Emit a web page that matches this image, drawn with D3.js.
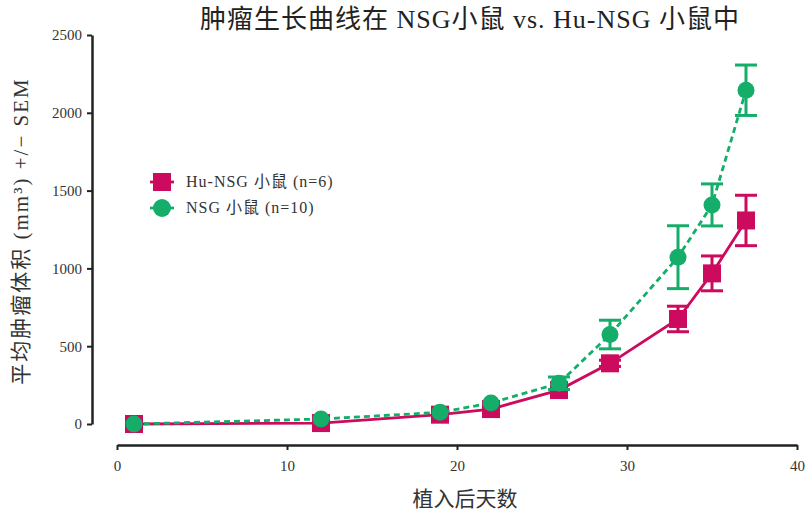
<!DOCTYPE html>
<html>
<head>
<meta charset="utf-8">
<script src="https://cdn.jsdelivr.net/npm/d3@7"></script>
<style>
  body { margin: 0; background: #fff; }
  svg { display: block; }
  text { font-family: "Liberation Serif", "Noto Serif", "Noto Sans CJK SC", serif; fill: #333; }
</style>
</head>
<body>
<svg id="chart" width="809" height="518"></svg>
<script>
// Days after implantation
const days = [1, 12, 19, 22, 26, 29, 33, 35, 37];
// Mean tumour volume (mm³) and SEM per group
const huNsgMean = [0, 6, 60, 96, 218, 390, 675, 968, 1308];
const huNsgSem  = [0, 0, 0, 0, 0, 20, 82, 112, 162];
const nsgMean   = [0, 32, 75, 135, 262, 575, 1072, 1408, 2145];
const nsgSem    = [0, 0, 0, 0, 40, 92, 202, 135, 162];
const yTicks = [0, 500, 1000, 1500, 2000, 2500];
const xTicks = [0, 10, 20, 30, 40];

const svg = d3.select("#chart");
const x = d3.scaleLinear().domain([0, 40]).range([117, 797]);
const y = d3.scaleLinear().domain([0, 2500]).range([424, 35]);

const magenta = "#CC0A5E";
const green = "#14AD69";

// Title
svg.append("text").attr("x", 470).attr("y", 28).attr("text-anchor", "middle")
  .style("font-size", "26px").style("letter-spacing", "1px").style("fill", "#222")
  .text("肿瘤生长曲线在 NSG小鼠 vs. Hu-NSG 小鼠中");

// Y axis
const yAxis = svg.append("g").attr("transform", "translate(92,0)")
  .call(d3.axisLeft(y).tickValues(yTicks).tickFormat(d3.format("d"))
    .tickSize(5).tickSizeOuter(0).tickPadding(5));
yAxis.select(".domain").attr("stroke", "#222").attr("stroke-width", 2.5);
yAxis.selectAll(".tick line").attr("stroke", "#222").attr("stroke-width", 2);
yAxis.selectAll(".tick text").style("font-size", "15px").style("font-family", "Liberation Serif, serif").attr("fill", "#333");

// X axis
const xAxis = svg.append("g").attr("transform", "translate(0,445)")
  .call(d3.axisBottom(x).tickValues(xTicks).tickFormat(d3.format("d"))
    .tickSize(5).tickSizeOuter(0).tickPadding(10));
xAxis.select(".domain").attr("stroke", "#222").attr("stroke-width", 2.5);
xAxis.selectAll(".tick line").attr("stroke", "#222").attr("stroke-width", 2);
xAxis.selectAll(".tick text").style("font-size", "15px").style("font-family", "Liberation Serif, serif").attr("fill", "#333");

// Axis titles
svg.append("text").attr("x", 465).attr("y", 506).attr("text-anchor", "middle")
  .style("font-size", "21px").text("植入后天数");
svg.append("text").attr("transform", "translate(28,231) rotate(-90)").attr("text-anchor", "middle")
  .style("font-size", "21px").style("letter-spacing", "2px").text("平均肿瘤体积 (mm³) +/− SEM");

const line = d3.line().x(d => x(d.day)).y(d => y(d.v));

function series(mean, sem, color, dashed, shape) {
  const pts = days.map((d, i) => ({ day: d, v: mean[i], e: sem[i] }));
  const g = svg.append("g");
  g.append("path").datum(pts).attr("d", line).attr("fill", "none")
    .attr("stroke", color).attr("stroke-width", 2.8)
    .attr("stroke-dasharray", dashed ? "6,4" : null);
  const eb = g.selectAll(".err").data(pts.filter(p => p.e > 0)).join("g");
  eb.append("line").attr("x1", d => x(d.day)).attr("x2", d => x(d.day))
    .attr("y1", d => y(d.v - d.e)).attr("y2", d => y(d.v + d.e))
    .attr("stroke", color).attr("stroke-width", 3);
  [-1, 1].forEach(s => {
    eb.append("line").attr("x1", d => x(d.day) - 11).attr("x2", d => x(d.day) + 11)
      .attr("y1", d => y(d.v + s * d.e)).attr("y2", d => y(d.v + s * d.e))
      .attr("stroke", color).attr("stroke-width", 3);
  });
  if (shape === "square") {
    g.selectAll(".m").data(pts).join("rect")
      .attr("x", d => x(d.day) - 9).attr("y", d => y(d.v) - 9)
      .attr("width", 18).attr("height", 18).attr("fill", color);
  } else {
    g.selectAll(".m").data(pts).join("circle")
      .attr("cx", d => x(d.day)).attr("cy", d => y(d.v)).attr("r", 8.5).attr("fill", color);
  }
}
series(huNsgMean, huNsgSem, magenta, false, "square");
series(nsgMean, nsgSem, green, true, "circle");

// Legend
const legend = [
  { label: "Hu-NSG 小鼠 (n=6)", color: magenta, shape: "square" },
  { label: "NSG 小鼠 (n=10)", color: green, shape: "circle" }
];
legend.forEach((l, i) => {
  const cy = 182 + i * 26;
  const lg = svg.append("g");
  lg.append("line").attr("x1", 150).attr("x2", 174).attr("y1", cy).attr("y2", cy)
    .attr("stroke", l.color).attr("stroke-width", 2.8);
  if (l.shape === "square") {
    lg.append("rect").attr("x", 153).attr("y", cy - 9).attr("width", 18).attr("height", 18).attr("fill", l.color);
  } else {
    lg.append("circle").attr("cx", 162).attr("cy", cy).attr("r", 9).attr("fill", l.color);
  }
  lg.append("text").attr("x", 186).attr("y", cy + 5).style("font-size", "16px")
    .style("letter-spacing", "1px").text(l.label);
});
</script>
</body>
</html>
